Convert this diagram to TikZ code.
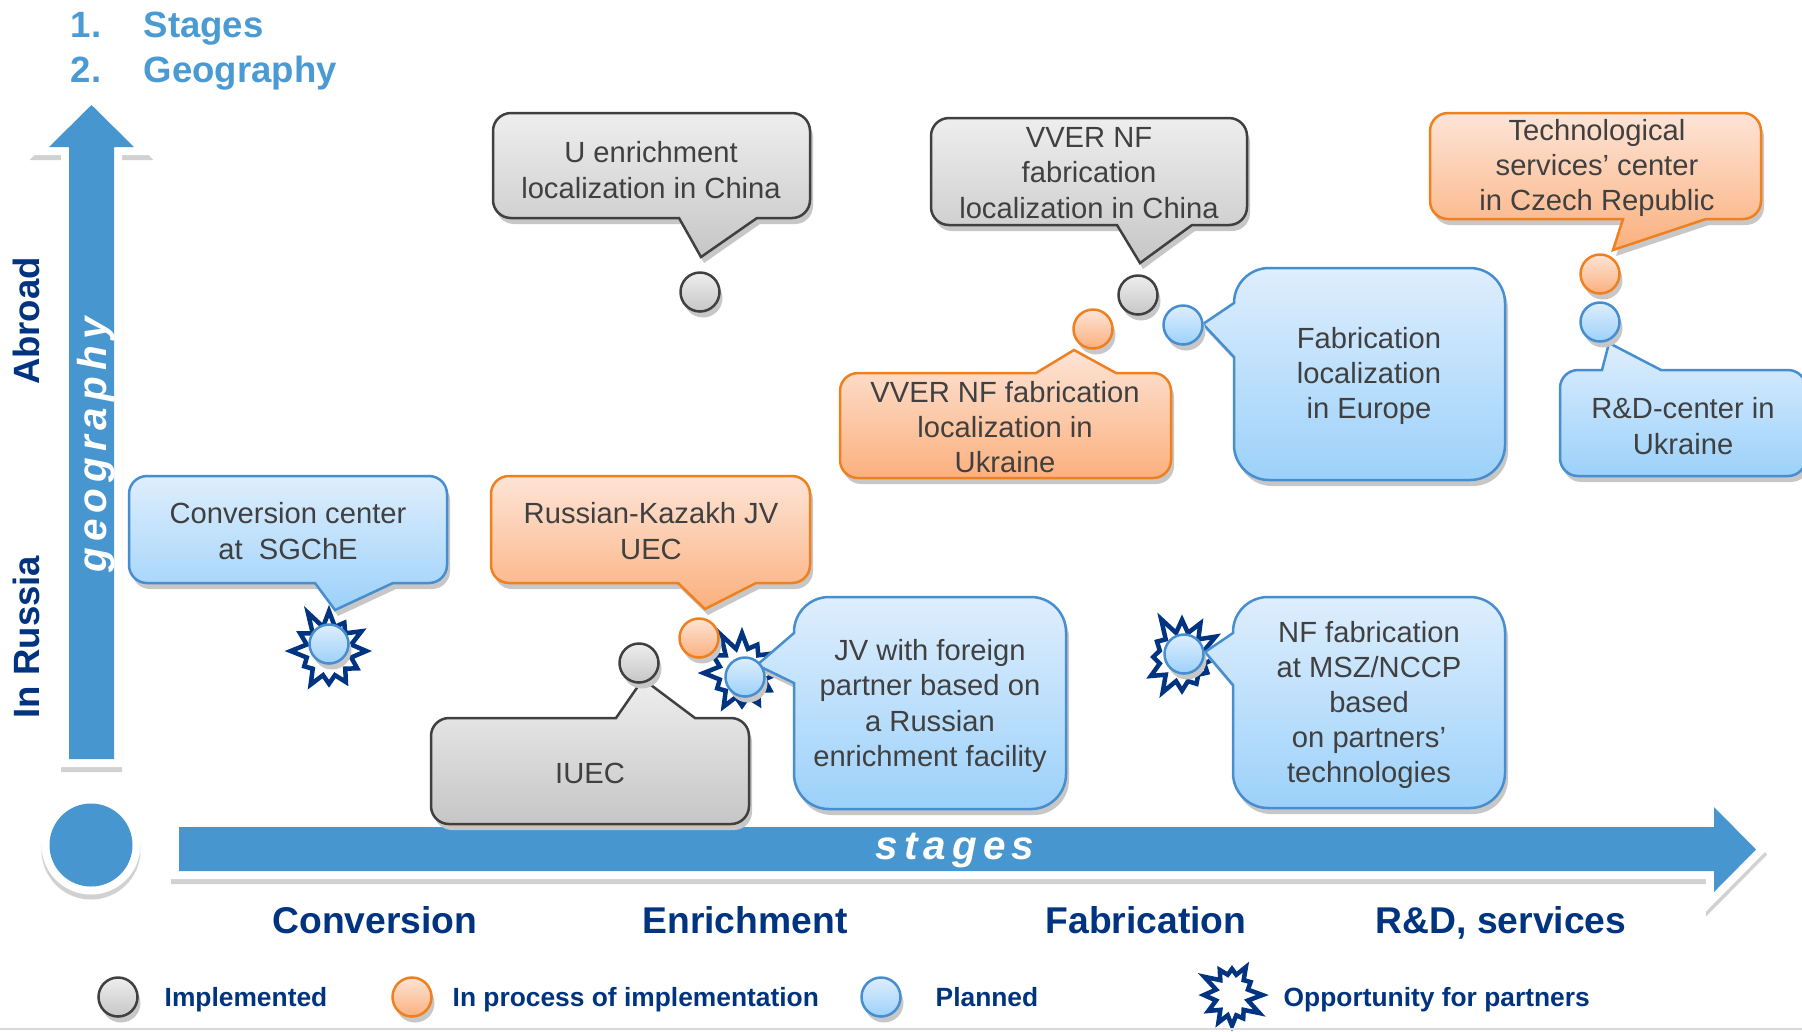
\documentclass[tikz,border=0pt]{standalone}
\usepackage{fontspec}
\setmainfont{Liberation Sans}
\newfontfamily\spacedfont[LetterSpace=15]{Liberation Sans}
\usetikzlibrary{shapes.symbols,shadows}

\definecolor{axisblue}{RGB}{72,150,208}
\definecolor{navy}{RGB}{0,51,128}
\definecolor{titleblue}{RGB}{74,154,212}
\definecolor{bubtext}{RGB}{64,64,64}
\definecolor{grayedge}{RGB}{64,64,64}
\definecolor{graytop}{RGB}{238,238,238}
\definecolor{graybot}{RGB}{198,198,198}
\definecolor{orangeedge}{RGB}{240,128,30}
\definecolor{orangetop}{RGB}{253,228,214}
\definecolor{orangebot}{RGB}{251,176,126}
\definecolor{blueedge}{RGB}{70,142,208}
\definecolor{bluetop}{RGB}{222,238,253}
\definecolor{bluebot}{RGB}{156,209,250}

\begin{document}
\begin{tikzpicture}[
    x=0.1mm, y=-0.1mm,
    bub/.style={line width=0.25mm, drop shadow={shadow xshift=0.3mm, shadow yshift=-0.6mm, fill=black!22, opacity=1}},
    graybub/.style={bub, draw=grayedge, top color=graytop, bottom color=graybot},
    orangebub/.style={bub, draw=orangeedge, top color=orangetop, bottom color=orangebot},
    bluebub/.style={bub, draw=blueedge, top color=bluetop, bottom color=bluebot},
    bubdot/.style={circle, minimum size=3.9mm, inner sep=0pt},
    burst/.style={starburst, starburst points=12, starburst point height=2mm, random starburst=11,
      draw=navy, line width=0.45mm, line join=miter, fill=white, minimum width=8.6mm, minimum height=9mm, inner sep=0pt},
    txt/.style={align=center, text=bubtext, inner sep=0pt, font=\fontsize{8.3}{10}\selectfont},
    stagetext/.style={text=navy, inner sep=0pt, anchor=base, font=\bfseries\fontsize{10.6}{12}\selectfont},
    legtext/.style={text=navy, inner sep=0pt, anchor=base west, font=\bfseries\fontsize{7.5}{9}\selectfont},
    sidetext/.style={text=navy, inner sep=0pt, rotate=90, font=\bfseries\fontsize{10.4}{12}\selectfont},
    titletext/.style={text=titleblue, inner sep=0pt, anchor=base west, font=\bfseries\fontsize{10.4}{12}\selectfont},
    axistext/.style={text=white, inner sep=0pt, anchor=base, font=\spacedfont\bfseries\itshape\fontsize{11.5}{13}\selectfont},
    axisarrow/.style={fill=axisblue, line join=miter,
      preaction={draw=black!18, fill=black!18, line width=1.6mm, line join=miter, transform canvas={yshift=-0.5mm}},
      preaction={draw=white, line width=1.6mm, line join=miter}}
  ]
    \useasboundingbox (0,0) rectangle (1802,1031);

    % title
    \node[titletext] (n1) at (70,37) {1.};
    \node[titletext] (t1) at (143,37) {Stages};
    \node[titletext] (n2) at (70,82) {2.};
    \node[titletext] (t2) at (143,82) {Geography};

    % axes
    \path[axisarrow] (69,759) -- (69,147) -- (49,147) -- (91.5,105) -- (134,147) -- (114,147) -- (114,759) -- cycle;
    \path[axisarrow] (179,827) -- (1714,827) -- (1714,807) -- (1756,849.5) -- (1714,892) -- (1714,871) -- (179,871) -- cycle;
    \node[circle, minimum size=8.3mm, inner sep=0pt, axisarrow] (origin) at (91,845) {};
    \node[axistext, rotate=90] (geo) at (107,445) {geography};
    \node[axistext] (stg) at (955,859) {stages};
    \node[sidetext] (abroad) at (26,321) {Abroad};
    \node[sidetext] (russia) at (26,637) {In Russia};

    \node[stagetext] (conv) at (375,933) {Conversion};
    \node[stagetext] (enr) at (745,933) {Enrichment};
    \node[stagetext] (fab) at (1146,933) {Fabrication};
    \node[stagetext] (rnd) at (1501,933) {R\&D, services};

    % opportunities
    \node[burst] (sgcheburst) at (329,651) {};
    \node[burst] (jvburst) at (742,673) {};
    \node[burst, random starburst=5] (nfburst) at (1182,657) {};

    % callouts
    \draw[graybub] (651,113) [rounded corners=1.8mm] -- (810,113) -- (810,218) [sharp corners] -- (757,218) -- (701,257) -- (679,218) [rounded corners=1.8mm] -- (493,218) -- (493,113) -- cycle;
    \draw[graybub] (1089,118) [rounded corners=1.8mm] -- (1247,118) -- (1247,225) [sharp corners] -- (1192,225) -- (1140,263) -- (1117,225) [rounded corners=1.8mm] -- (931,225) -- (931,118) -- cycle;
    \draw[orangebub] (1597,113) [rounded corners=1.8mm] -- (1761,113) -- (1761,219) [sharp corners] -- (1706,219) -- (1613,250) -- (1623,219) [rounded corners=1.8mm] -- (1430,219) -- (1430,113) -- cycle;
    \draw[orangebub] (1005,478) [rounded corners=1.8mm] -- (840,478) -- (840,373) [sharp corners] -- (1036,373) -- (1074,350) -- (1116,373) [rounded corners=1.8mm] -- (1171,373) -- (1171,478) -- cycle;
    \draw[bluebub] (1369,268) [rounded corners=3.5mm] -- (1505,268) -- (1505,480) -- (1234,480) [sharp corners] -- (1234,357) -- (1203,324) -- (1234,303) [rounded corners=3.5mm] -- (1234,268) -- cycle;
    \draw[bluebub] (1683,476) [rounded corners=1.8mm] -- (1560,476) -- (1560,370) [sharp corners] -- (1602,370) -- (1609,343) -- (1661,370) [rounded corners=1.8mm] -- (1806,370) -- (1806,476) -- cycle;
    \draw[bluebub] (288,476) [rounded corners=1.8mm] -- (447,476) -- (447,583) [sharp corners] -- (393,583) -- (335,610) -- (315,583) [rounded corners=1.8mm] -- (129,583) -- (129,476) -- cycle;
    \draw[orangebub] (651,476) [rounded corners=1.8mm] -- (810,476) -- (810,583) [sharp corners] -- (756,583) -- (705,609) -- (678,583) [rounded corners=1.8mm] -- (491,583) -- (491,476) -- cycle;
    \draw[graybub] (590,824) [rounded corners=1.8mm] -- (431,824) -- (431,718) [sharp corners] -- (616,718) -- (643,679) -- (695,718) [rounded corners=1.8mm] -- (749,718) -- (749,824) -- cycle;
    \draw[bluebub] (930,597) [rounded corners=3.5mm] -- (1066,597) -- (1066,809) -- (794,809) [sharp corners] -- (794,683) -- (757,665) -- (794,633) [rounded corners=3.5mm] -- (794,597) -- cycle;
    \draw[bluebub] (1369,597) [rounded corners=3.5mm] -- (1505,597) -- (1505,808) -- (1233,808) [sharp corners] -- (1233,685) -- (1205,652) -- (1233,633) [rounded corners=3.5mm] -- (1233,597) -- cycle;

    \node[txt] (uchina) at (651,170) {U enrichment\\localization in China};
    \node[txt] (vverchina) at (1089,173) {VVER NF\\fabrication\\localization in China};
    \node[txt] (czech) at (1597,168) {Technological\\services’ center\\in Czech Republic};
    \node[txt] (vverukr) at (1005,427) {VVER NF fabrication\\localization in\\Ukraine};
    \node[txt] (europe) at (1369,376) {Fabrication\\localization\\in Europe};
    \node[txt] (rdukr) at (1683,426) {R\&D-center in\\Ukraine};
    \node[txt] (sgche) at (288,531) {Conversion center\\at~~SGChE};
    \node[txt] (uec) at (651,531) {Russian-Kazakh JV\\UEC};
    \node[txt] (iuec) at (590,773) {IUEC};
    \node[txt] (jv) at (930,706) {JV with foreign\\partner based on\\a Russian\\enrichment facility};
    \node[txt] (msz) at (1369,705) {NF fabrication\\at MSZ/NCCP\\based\\on partners’\\technologies};

    % status dots
    \node[bubdot, graybub] (uchinadot) at (700,292) {};
    \node[bubdot, graybub] (vverchinadot) at (1138,295) {};
    \node[bubdot, orangebub] (czechdot) at (1600,274) {};
    \node[bubdot, orangebub] (vverukrdot) at (1093,329) {};
    \node[bubdot, bluebub] (europedot) at (1183,325) {};
    \node[bubdot, bluebub] (rdukrdot) at (1600,322) {};
    \node[bubdot, bluebub] (sgchedot) at (329,644) {};
    \node[bubdot, orangebub] (uecdot) at (699,638) {};
    \node[bubdot, graybub] (iuecdot) at (639,663) {};
    \node[bubdot, bluebub] (jvdot) at (745,677) {};
    \node[bubdot, bluebub] (mszdot) at (1184,654) {};

    % legend
    \node[bubdot, graybub] (legimpl) at (118,997) {};
    \node[legtext] (legimpltext) at (164,1006) {Implemented};
    \node[bubdot, orangebub] (legproc) at (412,997) {};
    \node[legtext] (legproctext) at (452,1006) {In process of implementation};
    \node[bubdot, bluebub] (legplan) at (881,997) {};
    \node[legtext] (legplantext) at (935,1006) {Planned};
    \node[burst, minimum width=6.5mm, minimum height=7.4mm, starburst point height=1.6mm, random starburst=3] (legopp) at (1232,995) {};
    \node[legtext] (legopptext) at (1283,1006) {Opportunity for partners};

    \draw[black!15, line width=0.2mm] (0,1029) -- (1802,1029);
\end{tikzpicture}
\end{document}
